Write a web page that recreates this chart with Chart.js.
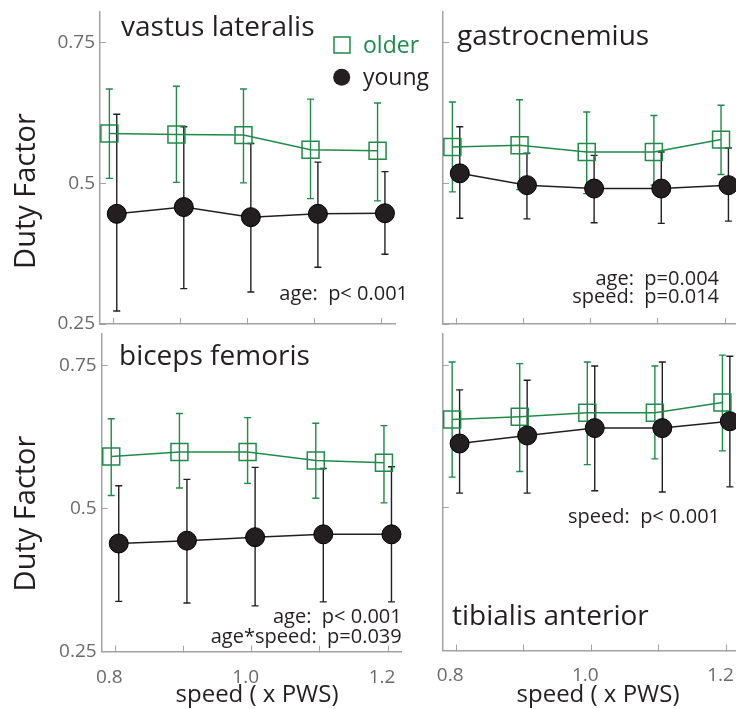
<!DOCTYPE html>
<html>
<head>
<meta charset="utf-8">
<script src="https://cdn.jsdelivr.net/npm/chart.js@4.4.1/dist/chart.umd.min.js"></script>
<style>
  html, body { margin: 0; padding: 0; background: #fff; width: 736px; height: 709px; overflow: hidden; position: relative; }
  canvas { position: absolute; }
</style>
</head>
<body>
<canvas id="c0"></canvas>
<canvas id="c1"></canvas>
<canvas id="c2"></canvas>
<canvas id="c3"></canvas>
<script>
// data
const speeds = [0.8, 0.9, 1.0, 1.1, 1.2];
const xTickLabels = ['0.8', '', '1.0', '', '1.2'];
const yTicks = [0.25, 0.5, 0.75];
const yTickLabels = ['0.25', '0.5', '0.75'];

// vastus lateralis
const vlOlder = [0.589, 0.587, 0.586, 0.560, 0.558];
const vlOlderLo = [0.509, 0.502, 0.501, 0.473, 0.469];
const vlOlderHi = [0.668, 0.673, 0.668, 0.650, 0.643];
const vlYoung = [0.446, 0.458, 0.440, 0.446, 0.447];
const vlYoungLo = [0.273, 0.313, 0.307, 0.351, 0.374];
const vlYoungHi = [0.623, 0.601, 0.571, 0.538, 0.521];

// gastrocnemius
const gaOlder = [0.565, 0.568, 0.556, 0.556, 0.578];
const gaOlderLo = [0.485, 0.489, 0.482, 0.497, 0.516];
const gaOlderHi = [0.645, 0.649, 0.627, 0.621, 0.639];
const gaYoung = [0.518, 0.497, 0.491, 0.491, 0.497];
const gaYoungLo = [0.438, 0.437, 0.430, 0.429, 0.433];
const gaYoungHi = [0.601, 0.554, 0.550, 0.556, 0.563];

// biceps femoris
const bfOlder = [0.591, 0.599, 0.599, 0.584, 0.580];
const bfOlderLo = [0.523, 0.536, 0.544, 0.518, 0.510];
const bfOlderHi = [0.657, 0.666, 0.659, 0.649, 0.645];
const bfYoung = [0.439, 0.444, 0.450, 0.455, 0.455];
const bfYoungLo = [0.338, 0.335, 0.330, 0.337, 0.337];
const bfYoungHi = [0.540, 0.551, 0.572, 0.570, 0.573];

// tibialis anterior
const taOlder = [0.655, 0.660, 0.667, 0.667, 0.685];
const taOlderLo = [0.554, 0.564, 0.576, 0.586, 0.600];
const taOlderHi = [0.756, 0.753, 0.756, 0.749, 0.768];
const taYoung = [0.613, 0.627, 0.640, 0.640, 0.652];
const taYoungLo = [0.526, 0.526, 0.530, 0.528, 0.537];
const taYoungHi = [0.707, 0.724, 0.749, 0.756, 0.766];

const GREEN = '#1f8b49';
const DARK = '#231f20';
const GREY = '#6a6a6a';
const AXIS = '#a3a3a3';
const FONT = "'Open Sans', sans-serif";
const dodge = 0.006;

const pts = (arr, dx) => arr.map((v, i) => ({ x: speeds[i] + dx, y: v }));

// error bars under the markers
const errorBars = {
  id: 'errorBars',
  beforeDatasetsDraw(chart) {
    const ctx = chart.ctx;
    const ys = chart.scales.y;
    chart.data.datasets.forEach((ds, i) => {
      const meta = chart.getDatasetMeta(i);
      ctx.save();
      ctx.strokeStyle = ds.borderColor;
      ctx.lineWidth = 1.4;
      meta.data.forEach((p, j) => {
        const y1 = ys.getPixelForValue(ds.errLo[j]);
        const y2 = ys.getPixelForValue(ds.errHi[j]);
        ctx.beginPath();
        ctx.moveTo(p.x, y1); ctx.lineTo(p.x, y2);
        ctx.moveTo(p.x - 3.5, y1); ctx.lineTo(p.x + 3.5, y1);
        ctx.moveTo(p.x - 3.5, y2); ctx.lineTo(p.x + 3.5, y2);
        ctx.stroke();
      });
      ctx.restore();
    });
  }
};

// free text, legend and axis titles, in page coordinates
const notes = {
  id: 'notes',
  afterDraw(chart, args, opts) {
    const ctx = chart.ctx;
    const ox = opts.ox, oy = opts.oy;
    (opts.items || []).forEach(it => {
      ctx.save();
      ctx.font = it.size + 'px ' + FONT;
      ctx.fillStyle = it.color || DARK;
      ctx.textAlign = it.align || 'left';
      ctx.textBaseline = it.base || 'alphabetic';
      ctx.translate(it.x - ox, it.y - oy);
      if (it.rot) ctx.rotate(it.rot);
      ctx.fillText(it.text, 0, 0);
      ctx.restore();
    });
    if (opts.legend) {
      const l = opts.legend;
      ctx.save();
      ctx.strokeStyle = GREEN;
      ctx.lineWidth = 1.5;
      ctx.strokeRect(l.sx - 8 - ox, l.sy - 8 - oy, 16, 16);
      ctx.fillStyle = DARK;
      ctx.beginPath();
      ctx.arc(l.cx - ox, l.cy - oy, 8.5, 0, Math.PI * 2);
      ctx.fill();
      ctx.restore();
    }
  }
};

const panels = [
  { id: 'c0', box: { x: 0, y: 0, w: 440, h: 335 }, area: { l: 100, t: 12, r: 395, b: 324 },
    older: vlOlder, olderLo: vlOlderLo, olderHi: vlOlderHi, young: vlYoung, youngLo: vlYoungLo, youngHi: vlYoungHi,
    showX: false, showY: true,
    items: [
      { text: 'vastus lateralis', x: 121, y: 36, size: 28 },
      { text: 'age:  p< 0.001', x: 408, y: 300, size: 20, align: 'right' },
      { text: 'older', x: 363, y: 53, size: 23, color: GREEN },
      { text: 'young', x: 363, y: 85, size: 23 },
      { text: 'Duty Factor', x: 27, y: 191, size: 29, align: 'center', base: 'middle', rot: -Math.PI / 2 }
    ],
    legend: { sx: 342, sy: 45, cx: 341.7, cy: 77.3 } },
  { id: 'c1', box: { x: 425, y: 0, w: 335, h: 335 }, area: { l: 443, t: 12, r: 738.5, b: 324 },
    older: gaOlder, olderLo: gaOlderLo, olderHi: gaOlderHi, young: gaYoung, youngLo: gaYoungLo, youngHi: gaYoungHi,
    showX: false, showY: false,
    items: [
      { text: 'gastrocnemius', x: 457, y: 45, size: 28 },
      { text: 'age:  p=0.004', x: 719, y: 285, size: 20, align: 'right' },
      { text: 'speed:  p=0.014', x: 719, y: 303, size: 20, align: 'right' }
    ] },
  { id: 'c2', box: { x: 0, y: 330, w: 440, h: 379 }, area: { l: 101.7, t: 334, r: 401.7, b: 651.7 },
    older: bfOlder, olderLo: bfOlderLo, olderHi: bfOlderHi, young: bfYoung, youngLo: bfYoungLo, youngHi: bfYoungHi,
    showX: true, showY: true,
    items: [
      { text: 'biceps femoris', x: 119, y: 365, size: 28 },
      { text: 'age:  p< 0.001', x: 401.7, y: 623, size: 20, align: 'right' },
      { text: 'age*speed:  p=0.039', x: 401.7, y: 643, size: 20, align: 'right' },
      { text: 'Duty Factor', x: 27, y: 513.5, size: 29, align: 'center', base: 'middle', rot: -Math.PI / 2 },
      { text: 'speed ( x PWS)', x: 257, y: 695, size: 24, align: 'center', base: 'middle' }
    ] },
  { id: 'c3', box: { x: 425, y: 330, w: 335, h: 379 }, area: { l: 442.7, t: 334, r: 740, b: 650.5 },
    older: taOlder, olderLo: taOlderLo, olderHi: taOlderHi, young: taYoung, youngLo: taYoungLo, youngHi: taYoungHi,
    showX: true, showY: false,
    items: [
      { text: 'speed:  p< 0.001', x: 720, y: 523, size: 20, align: 'right' },
      { text: 'tibialis anterior', x: 452, y: 625, size: 28 },
      { text: 'speed ( x PWS)', x: 598, y: 695, size: 24, align: 'center', base: 'middle' }
    ] }
];

panels.forEach(p => {
  const cv = document.getElementById(p.id);
  cv.width = p.box.w;
  cv.height = p.box.h;
  cv.style.left = p.box.x + 'px';
  cv.style.top = p.box.y + 'px';
  const yW = p.area.l - p.box.x;
  const xH = p.box.y + p.box.h - p.area.b;

  new Chart(cv, {
    type: 'line',
    data: {
      datasets: [
        {
          label: 'young', data: pts(p.young, dodge - 0.001), errLo: p.youngLo, errHi: p.youngHi,
          borderColor: DARK, backgroundColor: DARK, borderWidth: 1.5,
          pointStyle: 'circle', pointRadius: 9.5, pointBorderWidth: 1, pointBackgroundColor: DARK, pointBorderColor: '#000',
          order: 0, clip: false
        },
        {
          label: 'older', data: pts(p.older, -dodge), errLo: p.olderLo, errHi: p.olderHi,
          borderColor: GREEN, backgroundColor: 'rgba(0,0,0,0)', borderWidth: 1.5,
          pointStyle: 'rect', pointRadius: 12, pointBorderWidth: 1.5, pointBackgroundColor: 'rgba(0,0,0,0)', pointBorderColor: GREEN,
          order: 1, clip: false
        }
      ]
    },
    options: {
      responsive: false,
      animation: false,
      devicePixelRatio: 1,
      layout: { autoPadding: false, padding: { left: 0, top: p.area.t - p.box.y, right: p.box.x + p.box.w - p.area.r, bottom: 0 } },
      plugins: {
        legend: { display: false },
        tooltip: { enabled: false },
        notes: { ox: p.box.x, oy: p.box.y, items: p.items, legend: p.legend }
      },
      scales: {
        x: {
          type: 'linear', min: 0.78, max: 1.22,
          afterBuildTicks: s => { s.ticks = speeds.map(v => ({ value: v })); },
          afterFit: s => { s.height = xH; s.paddingLeft = 0; s.paddingRight = 0; },
          ticks: {
            display: p.showX, autoSkip: false, maxRotation: 0, padding: 20, labelOffset: -6,
            color: GREY, font: { family: FONT, size: 19 },
            callback: (v, i) => xTickLabels[i]
          },
          grid: { drawOnChartArea: false, drawTicks: true, tickLength: -6, color: AXIS, lineWidth: 1 },
          border: { color: AXIS, width: 1.5 }
        },
        y: {
          type: 'linear', min: 0.25, max: 0.805,
          afterBuildTicks: s => { s.ticks = yTicks.map(v => ({ value: v })); },
          afterFit: s => { s.width = yW; s.paddingTop = 0; s.paddingBottom = 0; },
          ticks: {
            display: p.showY, padding: 11,
            color: GREY, font: { family: FONT, size: 19 },
            callback: (v, i) => yTickLabels[i]
          },
          grid: { drawOnChartArea: false, drawTicks: true, tickLength: -6, color: AXIS, lineWidth: 1 },
          border: { color: AXIS, width: 1.5 }
        }
      }
    },
    plugins: [errorBars, notes]
  });
});
</script>
</body>
</html>
